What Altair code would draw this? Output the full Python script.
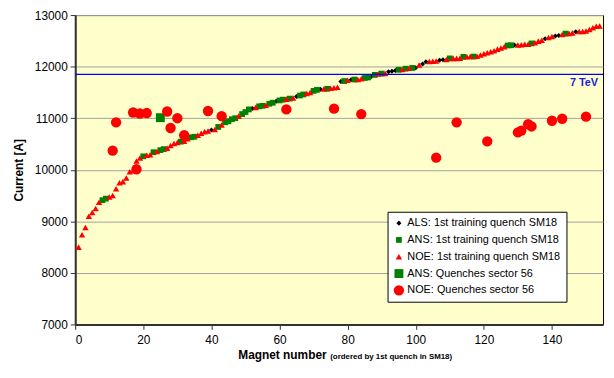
import altair as alt
import pandas as pd

FONT = "Liberation Sans"

series_names = [
    "ALS: 1st training quench SM18",
    "ANS: 1st training quench SM18",
    "NOE: 1st training quench SM18",
    "ANS: Quenches sector 56",
    "NOE: Quenches sector 56",
]
series_colors = ["#000000", "#008000", "#FF0000", "#008000", "#FF0000"]
series_shapes = ["diamond", "square", "triangle-up", "square", "circle"]
series_sizes = [26, 34, 42, 81, 110]

als_x = [40, 52, 59, 65, 72, 78, 81, 87, 92, 93, 94, 100, 102, 103, 107, 108, 129, 138, 141, 142, 147]
als_y = [10770, 11190, 11330, 11420, 11560, 11710, 11745, 11810, 11900, 11910, 11925, 11980, 12050,
         12095, 12125, 12135, 12420, 12540, 12595, 12605, 12675]

ans_x = [8, 9, 20, 23, 25, 26, 31, 34, 35, 42, 44, 45, 46, 47, 49, 50, 51, 54, 55, 57, 58, 60, 61, 63,
         66, 67, 70, 71, 74, 79, 82, 85, 86, 88, 90, 95, 97, 99, 110, 114, 117, 127, 128, 134, 144]
ans_y = [9410, 9440, 10260, 10340, 10380, 10400, 10545, 10630, 10640, 10830, 10920, 10940, 10980, 11000,
         11080, 11120, 11170, 11230, 11240, 11280, 11300, 11345, 11360, 11380, 11440, 11460, 11530, 11550,
         11570, 11720, 11750, 11780, 11790, 11840, 11865, 11940, 11960, 11975, 12160, 12190, 12195, 12410,
         12415, 12450, 12640]

noe_x = [1, 2, 3, 4, 5, 6, 7, 10, 11, 12, 13, 14, 15, 16, 17, 18, 19, 21, 22, 24, 27, 28, 29, 30, 32, 33,
         36, 37, 38, 39, 41, 43, 48, 53, 56, 62, 64, 68, 69, 73, 75, 76, 77, 80, 83, 84, 89, 91, 96, 98,
         101, 104, 105, 106, 109, 111, 112, 113, 115, 116, 118, 119, 120, 121, 122, 123, 124, 125, 126,
         130, 131, 132, 133, 135, 136, 137, 139, 140, 143, 145, 146, 148, 149, 150, 151, 152, 153, 154]
noe_y = [8500, 8740, 8880, 9100, 9170, 9250, 9370, 9470, 9500, 9630, 9750, 9770, 9840, 9960, 9980, 10170,
         10230, 10280, 10290, 10355, 10420, 10470, 10510, 10530, 10555, 10600, 10670, 10710, 10740, 10750,
         10780, 10870, 11040, 11210, 11250, 11370, 11390, 11480, 11500, 11565, 11580, 11590, 11600, 11735,
         11750, 11765, 11860, 11865, 11945, 11970, 12030, 12100, 12105, 12110, 12140, 12160, 12160, 12165,
         12190, 12195, 12200, 12225, 12250, 12270, 12290, 12310, 12340, 12360, 12385, 12420, 12425, 12435,
         12435, 12465, 12495, 12510, 12565, 12585, 12625, 12645, 12655, 12680, 12680, 12690, 12720, 12755,
         12785, 12790]

ansq_x = [25]
ansq_y = [11010]

noeq_x = [11, 12, 17, 18, 19, 21, 27, 28, 30, 32, 39, 43, 62, 76, 84, 106, 112, 121, 130, 131, 133, 134,
          140, 143, 150]
noeq_y = [10370, 10920, 11110, 10010, 11090, 11100, 11130, 10810, 11000, 10670, 11140, 11040, 11170,
          11185, 11080, 10235, 10920, 10550, 10725, 10760, 10885, 10840, 10950, 10990, 11030]

ref_current = [11850]
ref_label = ["7 TeV"]

x_ticks = [0, 20, 40, 60, 80, 100, 120, 140]
y_ticks = [7000, 8000, 9000, 10000, 11000, 12000, 13000]

rows = []
for name, xs, ys in zip(series_names,
                        [als_x, ans_x, noe_x, ansq_x, noeq_x],
                        [als_y, ans_y, noe_y, ansq_y, noeq_y]):
    for xv, yv in zip(xs, ys):
        rows.append({"magnet": xv, "current": yv, "series": name})
df = pd.DataFrame(rows)
ref_df = pd.DataFrame({"current": ref_current, "label": ref_label})
one = pd.DataFrame({"k": [0]})

xscale = alt.Scale(domain=[0, 155], nice=False)
yscale = alt.Scale(domain=[7000, 13000], nice=False)

legend = alt.Legend(
    title=None, orient="none", legendX=316, legendY=199,
    fillColor="white", strokeColor="#000000", padding=6, rowPadding=5,
    labelFont=FONT, labelFontSize=11, labelColor="#000000", labelOffset=3,
    symbolStrokeWidth=0, cornerRadius=0,
)

points = alt.Chart(df).mark_point(filled=True, opacity=1, strokeWidth=0).encode(
    x=alt.X("magnet:Q", scale=xscale,
            axis=alt.Axis(values=x_ticks, title=None, grid=False, labelPadding=5)),
    y=alt.Y("current:Q", scale=yscale,
            axis=alt.Axis(values=y_ticks, title="Current [A]", grid=True, labelPadding=3,
                          titlePadding=9, format="d")),
    color=alt.Color("series:N", scale=alt.Scale(type="ordinal", domain=series_names, range=series_colors),
                    legend=legend),
    shape=alt.Shape("series:N", scale=alt.Scale(type="ordinal", domain=series_names, range=series_shapes),
                    legend=legend),
    size=alt.Size("series:N", scale=alt.Scale(type="ordinal", domain=series_names, range=series_sizes),
                  legend=legend),
)

rule = alt.Chart(ref_df).mark_rule(color="#0000FF", strokeWidth=1.5).encode(
    y=alt.Y("current:Q", scale=yscale)
)

ref_text = alt.Chart(ref_df).mark_text(
    align="right", baseline="middle", dy=9, color="#1a1ae0",
    font=FONT, fontSize=11, fontWeight="bold"
).encode(
    x=alt.value(529),
    y=alt.Y("current:Q", scale=yscale),
    text="label:N",
)

xtitle1 = alt.Chart(one).mark_text(
    text="Magnet number", align="left", baseline="alphabetic",
    font=FONT, fontSize=12, fontWeight="bold", color="#000000"
).encode(x=alt.value(165), y=alt.value(348))

xtitle2 = alt.Chart(one).mark_text(
    text="(ordered by 1st quench in SM18)", align="left", baseline="alphabetic",
    font=FONT, fontSize=8, fontWeight="bold", color="#000000"
).encode(x=alt.value(258), y=alt.value(348))

chart = alt.layer(points, rule, ref_text, xtitle1, xtitle2).properties(
    width=534, height=313,
    padding={"left": 68, "top": 5, "right": 3, "bottom": 50},
    autosize=alt.AutoSizeParams(type="none"),
    background="white",
).configure_view(
    fill="#FFFFCC", stroke="#000000", strokeWidth=1
).configure_axis(
    domainColor="#333333", domainWidth=2, tickColor="#333333", tickSize=5, tickWidth=1,
    labelFont=FONT, labelFontSize=12, labelColor="#000000",
    titleFont=FONT, titleFontSize=12, titleFontWeight="bold", titleColor="#000000",
    gridColor="#A0A0A0", gridWidth=1,
)

chart.save("out.html", embed_options={"renderer": "svg", "actions": False})
